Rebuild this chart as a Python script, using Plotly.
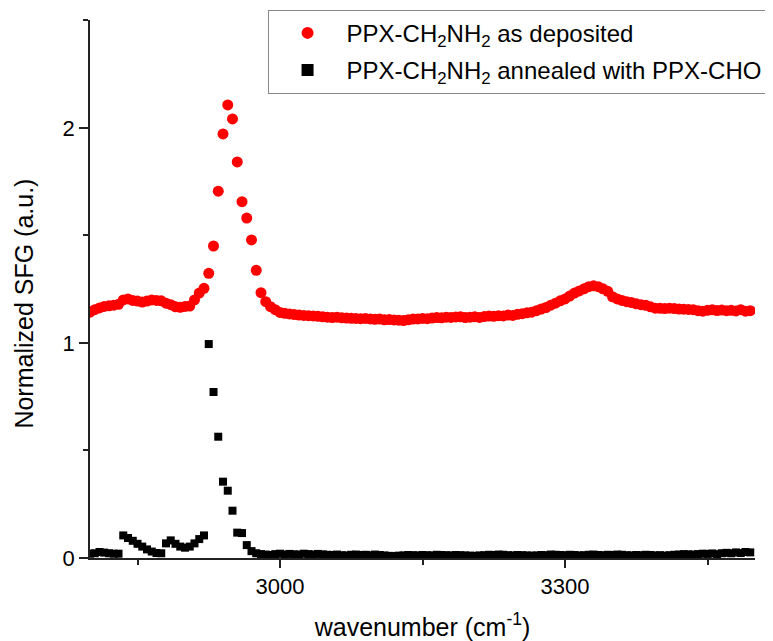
import plotly.graph_objects as go

wavenumber = list(range(2800, 3500, 5))

sfg_as_deposited = [
    1.143, 1.155, 1.163, 1.170, 1.173, 1.176, 1.180, 1.200, 1.205, 1.198,
    1.195, 1.190, 1.195, 1.200, 1.198, 1.196, 1.185, 1.178, 1.168, 1.166,
    1.170, 1.172, 1.200, 1.232, 1.254, 1.324, 1.451, 1.706, 1.972, 2.107,
    2.042, 1.842, 1.657, 1.581, 1.479, 1.338, 1.234, 1.192, 1.169, 1.155,
    1.142, 1.138, 1.135, 1.132, 1.130, 1.128, 1.127, 1.126, 1.124, 1.122,
    1.120, 1.118, 1.120, 1.117, 1.116, 1.115, 1.114, 1.113, 1.114, 1.112,
    1.110, 1.111, 1.108, 1.109, 1.107, 1.106, 1.104, 1.108, 1.111, 1.112,
    1.114, 1.113, 1.116, 1.118, 1.117, 1.120, 1.119, 1.121, 1.122, 1.118,
    1.120, 1.122, 1.119, 1.123, 1.125, 1.124, 1.127, 1.126, 1.130, 1.128,
    1.133, 1.136, 1.140, 1.143, 1.150, 1.158, 1.165, 1.176, 1.185, 1.196,
    1.205, 1.218, 1.232, 1.242, 1.252, 1.262, 1.266, 1.262, 1.252, 1.240,
    1.215, 1.205, 1.198, 1.192, 1.188, 1.182, 1.178, 1.175, 1.168, 1.162,
    1.161, 1.160, 1.162, 1.160, 1.158, 1.157, 1.156, 1.155, 1.150, 1.148,
    1.152, 1.154, 1.151, 1.153, 1.150, 1.152, 1.149, 1.155, 1.148, 1.150,
]

sfg_annealed = [
    0.020, 0.022, 0.028, 0.025, 0.022, 0.020, 0.020, 0.105, 0.093, 0.080,
    0.066, 0.053, 0.040, 0.030, 0.023, 0.022, 0.068, 0.082, 0.066, 0.053,
    0.048, 0.053, 0.068, 0.088, 0.105, 0.995, 0.772, 0.564, 0.355, 0.313,
    0.220, 0.118, 0.116, 0.060, 0.032, 0.022, 0.018, 0.016, 0.014, 0.018,
    0.020, 0.016, 0.019, 0.017, 0.016, 0.020, 0.018, 0.016, 0.019, 0.017,
    0.015, 0.014, 0.016, 0.013, 0.012, 0.015, 0.016, 0.014, 0.015, 0.013,
    0.016, 0.014, 0.012, 0.010, 0.009, 0.011, 0.012, 0.014, 0.013, 0.012,
    0.014, 0.013, 0.012, 0.015, 0.014, 0.013, 0.012, 0.014, 0.013, 0.012,
    0.011, 0.010, 0.012, 0.013, 0.015, 0.014, 0.016, 0.015, 0.013, 0.012,
    0.014, 0.013, 0.012, 0.011, 0.012, 0.014, 0.013, 0.016, 0.015, 0.014,
    0.013, 0.015, 0.014, 0.012, 0.013, 0.015, 0.016, 0.014, 0.013, 0.015,
    0.014, 0.016, 0.015, 0.013, 0.012, 0.014, 0.013, 0.015, 0.014, 0.012,
    0.013, 0.011, 0.013, 0.015, 0.016, 0.018, 0.017, 0.016, 0.018, 0.020,
    0.019, 0.021, 0.018, 0.022, 0.024, 0.022, 0.026, 0.023, 0.028, 0.026,
]

name_deposited = "PPX-CH<sub>2</sub>NH<sub>2</sub> as deposited"
name_annealed = "PPX-CH<sub>2</sub>NH<sub>2</sub> annealed with PPX-CHO"
x_title = "wavenumber (cm<sup>-1</sup>)"
y_title = "Normalized SFG (a.u.)"

FONT = "Liberation Sans, Arial, sans-serif"

fig = go.Figure()
fig.add_trace(go.Scatter(
    x=wavenumber, y=sfg_as_deposited, mode="markers", name=name_deposited,
    legendgroup="a",
    marker=dict(symbol="circle", size=11, color="#ff0000", line=dict(width=0)),
))
fig.add_trace(go.Scatter(
    x=wavenumber, y=sfg_annealed, mode="markers", name=name_annealed,
    legendgroup="b",
    marker=dict(symbol="square", size=8, color="#000000", line=dict(width=0)),
))

# y-axis title placed as an annotation (it sits slightly below the plot centre)
fig.add_annotation(
    text=y_title, textangle=-90, showarrow=False,
    xref="paper", x=0, xanchor="center", xshift=-66,
    yref="y", y=1.183, yanchor="middle",
    font=dict(family=FONT, size=25, color="black"),
)

# page body has an 8px margin, so the figure is drawn 8px smaller
fig.update_layout(
    width=765, height=633,
    paper_bgcolor="white", plot_bgcolor="white",
    margin=dict(l=82, r=18, t=12, b=83, autoexpand=False),
    font=dict(family=FONT, size=22, color="black"),
    showlegend=True,
    legend=dict(
        x=0.267, y=1.019, xanchor="left", yanchor="top",
        bgcolor="white", bordercolor="#888888", borderwidth=1,
        font=dict(family=FONT, size=24, color="black"),
        traceorder="grouped", tracegroupgap=3, itemsizing="constant",
        itemwidth=68,
    ),
    xaxis=dict(
        range=[2800, 3500], showgrid=False, zeroline=False,
        showline=True, linecolor="#222222", linewidth=1.5,
        tick0=3000, dtick=300, ticks="outside", ticklen=8, tickwidth=1.5,
        tickcolor="#222222",
        minor=dict(dtick=150, tick0=3000, ticks="outside", ticklen=5,
                   tickwidth=1.5, tickcolor="#222222"),
        tickfont=dict(family=FONT, size=22),
        title=dict(text=x_title, font=dict(family=FONT, size=25), standoff=28),
    ),
    yaxis=dict(
        range=[0, 2.502], showgrid=False, zeroline=False,
        showline=True, linecolor="#222222", linewidth=1.5,
        tick0=0, dtick=1, ticks="outside", ticklen=9, tickwidth=1.5,
        tickcolor="#222222",
        minor=dict(dtick=0.5, tick0=0, ticks="outside", ticklen=5,
                   tickwidth=1.5, tickcolor="#222222"),
        tickfont=dict(family=FONT, size=22),
    ),
)

fig.write_html("out.html")
